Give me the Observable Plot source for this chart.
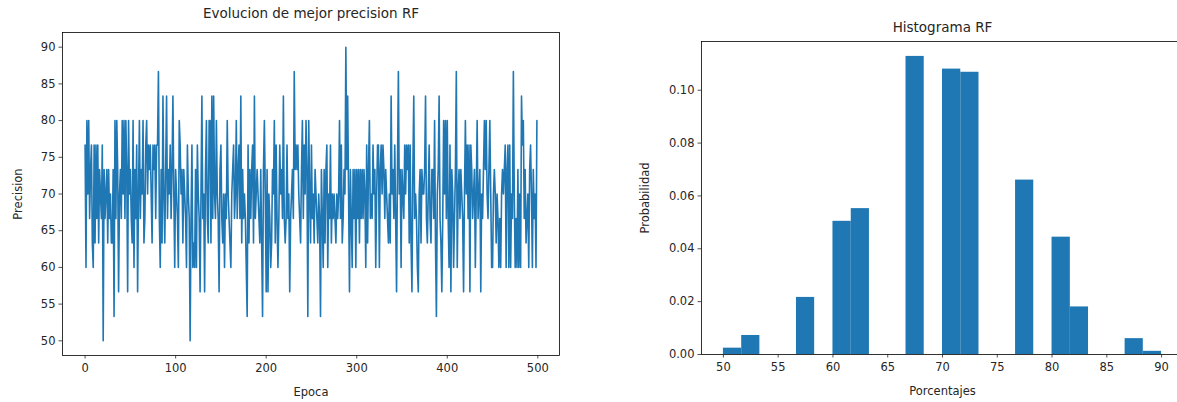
<!DOCTYPE html>
<html>
<head>
<meta charset="utf-8">
<script src="https://cdn.jsdelivr.net/npm/d3@7"></script>
<script src="https://cdn.jsdelivr.net/npm/@observablehq/plot@0.6"></script>
<style>
  html, body { margin: 0; padding: 0; background: #fff; }
  #fig { position: relative; width: 1177px; height: 402px; overflow: hidden; background: #fff; }
  #fig svg { position: absolute; top: 0; }
</style>
</head>
<body>
<div id="fig"></div>
<script>
// Best precision (%) reached at each epoch, epochs 0..499
const precision = [
  76.67, 60, 80, 70, 80, 66.67, 73.33, 76.67, 63.33, 60,
  76.67, 63.33, 76.67, 66.67, 76.67, 63.33, 73.33, 70, 66.67, 76.67,
  50, 73.33, 66.67, 70, 73.33, 63.33, 73.33, 66.67, 70, 63.33,
  63.33, 73.33, 53.33, 80, 66.67, 80, 73.33, 56.67, 70, 73.33,
  66.67, 80, 70, 80, 66.67, 80, 73.33, 56.67, 80, 70,
  73.33, 66.67, 63.33, 80, 60, 73.33, 66.67, 76.67, 56.67, 70,
  80, 66.67, 73.33, 70, 80, 63.33, 66.67, 76.67, 80, 70,
  76.67, 73.33, 76.67, 70, 63.33, 76.67, 73.33, 76.67, 66.67, 76.67,
  76.67, 86.67, 66.67, 60, 73.33, 63.33, 83.33, 70, 63.33, 73.33,
  83.33, 66.67, 73.33, 70, 76.67, 66.67, 73.33, 83.33, 70, 60,
  73.33, 70, 66.67, 60, 80, 76.67, 70, 73.33, 63.33, 73.33,
  70, 66.67, 60, 76.67, 70, 66.67, 50, 66.67, 76.67, 60,
  63.33, 60, 73.33, 60, 76.67, 70, 66.67, 56.67, 70, 83.33,
  66.67, 70, 56.67, 73.33, 80, 66.67, 63.33, 80, 80, 63.33,
  83.33, 66.67, 83.33, 70, 66.67, 80, 70, 66.67, 56.67, 73.33,
  76.67, 66.67, 63.33, 70, 60, 70, 66.67, 80, 70, 66.67,
  63.33, 60, 70, 73.33, 76.67, 66.67, 70, 80, 66.67, 73.33,
  76.67, 66.67, 83.33, 63.33, 73.33, 66.67, 70, 66.67, 60, 53.33,
  76.67, 63.33, 73.33, 66.67, 73.33, 76.67, 63.33, 83.33, 66.67, 70,
  73.33, 70, 66.67, 63.33, 73.33, 63.33, 53.33, 73.33, 80, 70,
  56.67, 73.33, 56.67, 70, 66.67, 60, 63.33, 73.33, 70, 80,
  63.33, 76.67, 66.67, 60, 66.67, 76.67, 70, 73.33, 66.67, 83.33,
  66.67, 63.33, 66.67, 76.67, 66.67, 70, 56.67, 66.67, 70, 73.33,
  66.67, 86.67, 73.33, 76.67, 73.33, 76.67, 70, 66.67, 63.33, 73.33,
  80, 66.67, 76.67, 70, 80, 73.33, 53.33, 80, 70, 63.33,
  76.67, 66.67, 70, 63.33, 73.33, 70, 66.67, 63.33, 70, 66.67,
  53.33, 73.33, 66.67, 60, 73.33, 63.33, 73.33, 76.67, 60, 70,
  66.67, 76.67, 63.33, 70, 66.67, 70, 66.67, 63.33, 70, 66.67,
  70, 80, 66.67, 76.67, 63.33, 66.67, 73.33, 70, 90, 73.33,
  83.33, 70, 56.67, 73.33, 66.67, 60, 73.33, 66.67, 73.33, 60,
  73.33, 66.67, 73.33, 63.33, 73.33, 66.67, 73.33, 66.67, 73.33, 70,
  60, 76.67, 63.33, 73.33, 80, 66.67, 70, 66.67, 76.67, 70,
  73.33, 60, 70, 76.67, 76.67, 60, 73.33, 76.67, 70, 76.67,
  73.33, 66.67, 73.33, 70, 66.67, 63.33, 70, 63.33, 83.33, 70,
  73.33, 66.67, 76.67, 66.67, 56.67, 73.33, 86.67, 70, 73.33, 60,
  73.33, 70, 66.67, 76.67, 70, 76.67, 73.33, 76.67, 63.33, 76.67,
  63.33, 56.67, 73.33, 83.33, 66.67, 70, 66.67, 60, 56.67, 70,
  73.33, 63.33, 73.33, 70, 70, 73.33, 83.33, 66.67, 63.33, 70,
  76.67, 66.67, 63.33, 73.33, 73.33, 66.67, 80, 63.33, 53.33, 70,
  73.33, 83.33, 66.67, 63.33, 56.67, 66.67, 80, 70, 80, 66.67,
  80, 66.67, 60, 76.67, 56.67, 73.33, 70, 60, 66.67, 73.33,
  86.67, 60, 70, 73.33, 66.67, 73.33, 70, 66.67, 56.67, 70,
  80, 70, 76.67, 66.67, 76.67, 56.67, 76.67, 73.33, 66.67, 70,
  73.33, 60, 70, 80, 66.67, 70, 73.33, 56.67, 70, 66.67,
  73.33, 80, 73.33, 80, 70, 66.67, 73.33, 80, 70, 60,
  60, 70, 73.33, 70, 63.33, 70, 66.67, 60, 66.67, 60,
  70, 73.33, 70, 73.33, 76.67, 60, 73.33, 76.67, 60, 76.67,
  60, 70, 66.67, 86.67, 70, 60, 66.67, 60, 73.33, 60,
  70, 60, 83.33, 76.67, 80, 66.67, 73.33, 63.33, 66.67, 70,
  60, 73.33, 76.67, 70, 60, 73.33, 66.67, 70, 60, 80
];
const epochTicks = [0, 100, 200, 300, 400, 500];
const precisionTicks = [50, 55, 60, 65, 70, 75, 80, 85, 90];

// Histogram of the precisions: 24 equal bins between 50 and 90, density per bin
const binEdges = [50, 51.67, 53.33, 55, 56.67, 58.33, 60, 61.67, 63.33, 65, 66.67, 68.33,
                  70, 71.67, 73.33, 75, 76.67, 78.33, 80, 81.67, 83.33, 85, 86.67, 88.33, 90];
const binDensity = [0.0024, 0.0072, 0, 0, 0.0216, 0, 0.0504, 0.0552, 0, 0, 0.1128, 0,
                    0.108, 0.1068, 0, 0, 0.066, 0, 0.0444, 0.018, 0, 0, 0.006, 0.0012];
const percentTicks = [50, 55, 60, 65, 70, 75, 80, 85, 90];
const probabilityTicks = [0, 0.02, 0.04, 0.06, 0.08, 0.10];

const blue = "#1f77b4";
const ink = "#262626";
const font = "DejaVu Sans";
const tickFont = 11.5;
const titleFont = 13.5;

const evolution = precision.map((p, i) => ({epoca: i, precision: p}));
const bins = binDensity.map((d, i) => ({x1: binEdges[i], x2: binEdges[i + 1], density: d}));

// Free-standing text (titles and axis names), centred on its anchor point
const label = (s, opts) => Plot.text([s], {
  text: (d) => d, fill: ink, fontFamily: font, textAnchor: "middle", lineAnchor: "middle", ...opts
});
const axisStyle = {tickSize: 3.5, tickPadding: 3.5, fontSize: tickFont, label: null, strokeWidth: 0.8};
const xAxisStyle = {...axisStyle, tickPadding: 5};

const fig = document.getElementById("fig");

// Left panel: precision per epoch
const evolutionChart = Plot.plot({
  width: 600,
  height: 402,
  marginLeft: 62,
  marginRight: 41,
  marginTop: 32,
  marginBottom: 47,
  style: {fontFamily: font, background: "transparent", color: ink},
  x: {domain: [-24.95, 523.95]},
  y: {domain: [48, 92]},
  marks: [
    Plot.line(evolution, {x: "epoca", y: "precision", stroke: blue, strokeWidth: 1.6}),
    Plot.frame({stroke: "#000", strokeWidth: 0.8}),
    Plot.axisX({ticks: epochTicks, ...xAxisStyle}),
    Plot.axisY({ticks: precisionTicks, ...axisStyle}),
    label("Evolucion de mejor precision RF", {frameAnchor: "top", dy: -19, fontSize: titleFont}),
    label("Epoca", {frameAnchor: "bottom", dy: 37, fontSize: tickFont}),
    label("Precision", {frameAnchor: "left", dx: -44, rotate: -90, fontSize: tickFont})
  ]
});
evolutionChart.style.left = "0px";
fig.appendChild(evolutionChart);

// Right panel: histogram of precisions
const histogramChart = Plot.plot({
  width: 600,
  height: 402,
  marginLeft: 101,
  marginRight: 17,
  marginTop: 41,
  marginBottom: 48,
  style: {fontFamily: font, background: "transparent", color: ink},
  x: {domain: [48, 92]},
  y: {domain: [0, 0.11844]},
  marks: [
    Plot.rectY(bins, {x1: "x1", x2: "x2", y1: 0, y2: "density", fill: blue}),
    Plot.frame({stroke: "#000", strokeWidth: 0.8}),
    Plot.axisX({ticks: percentTicks, ...xAxisStyle}),
    Plot.axisY({ticks: probabilityTicks, tickFormat: (d) => d.toFixed(2), ...axisStyle}),
    label("Histograma RF", {frameAnchor: "top", dy: -14, fontSize: titleFont}),
    label("Porcentajes", {frameAnchor: "bottom", dy: 37, fontSize: tickFont}),
    label("Probabilidad", {frameAnchor: "left", dx: -56, rotate: -90, fontSize: tickFont})
  ]
});
histogramChart.style.left = "600px";
fig.appendChild(histogramChart);
</script>
</body>
</html>
